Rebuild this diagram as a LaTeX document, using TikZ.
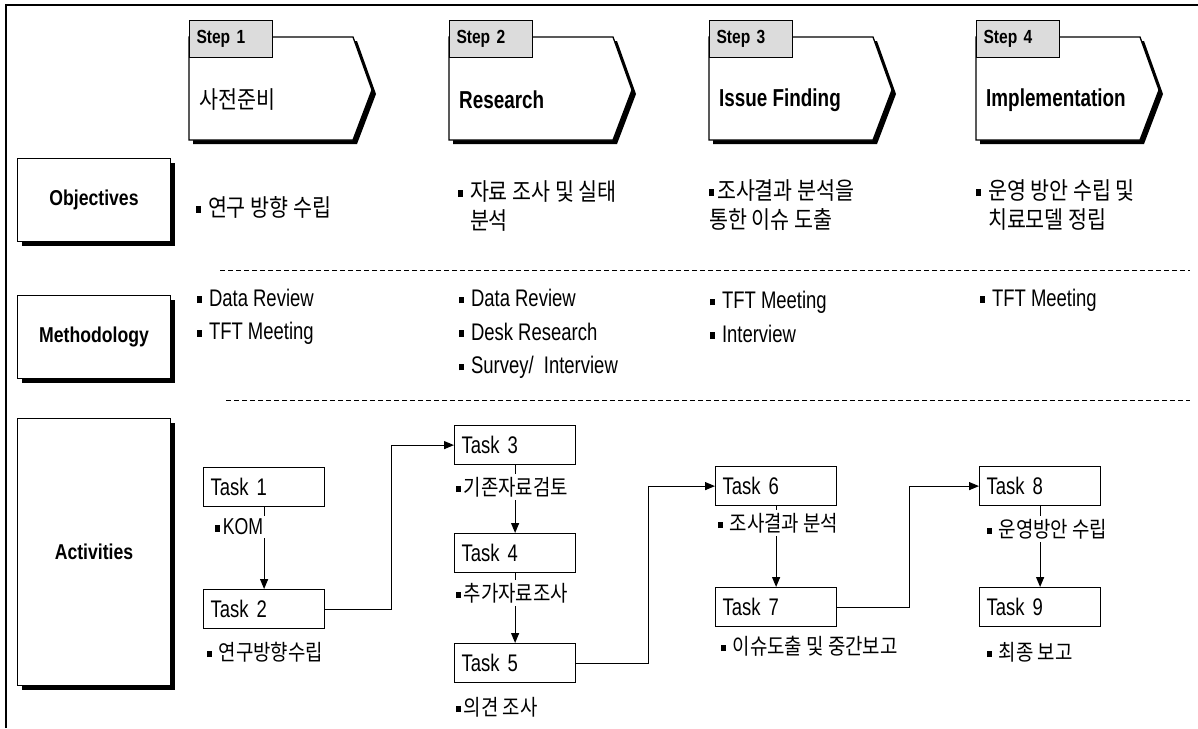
\documentclass[tikz,border=0pt]{standalone}
\usepackage{fontspec}
\setmainfont[FakeStretch=0.82]{Liberation Sans}
\newfontfamily\tn[FakeStretch=0.77]{Liberation Sans}
\newfontfamily\kr[FakeStretch=0.86]{Noto Sans CJK KR}
\usetikzlibrary{arrows.meta,shadows}
\definecolor{tabgray}{HTML}{DCDCDC}
% small square bullet, with a short gap after it
\newcommand\sqbul{\rule[0.14em]{0.2em}{0.28em}\hspace{3pt}}
\newcommand\gap{\hspace{4pt}}
\begin{document}
\begin{tikzpicture}[x=1pt,y=-1pt,
  frame/.style={line width=2pt},
  sep/.style={line width=1pt, dash pattern=on 5pt off 3pt},
  rowbox/.style={draw, line width=1pt, fill=white, minimum width=153pt,
    minimum height=83pt, anchor=north west,
    font=\bfseries\fontsize{21.5}{25}\selectfont,
    drop shadow={shadow xshift=4pt, shadow yshift=-4pt, opacity=1, fill=black}},
  steptab/.style={draw, line width=1pt, fill=tabgray, anchor=north west,
    minimum height=37pt, text width=69pt, inner xsep=7pt, align=left,
    font=\bfseries\fontsize{19}{22}\selectfont},
  steptitle/.style={anchor=west, inner sep=0pt, font=\tn\fontsize{24.5}{28}\selectfont},
  taskbox/.style={draw, line width=1.2pt, fill=white, anchor=north west,
    text width=107pt, inner xsep=7pt, minimum height=39pt, align=left,
    font=\tn\fontsize{24}{26}\selectfont},
  conn/.style={line width=1.2pt, -{Triangle[length=10pt,width=8pt]}},
  krtext/.style={anchor=west, inner sep=2pt, align=left, font=\kr\fontsize{24}{29}\selectfont},
  entext/.style={anchor=west, inner sep=2pt, align=left, font=\tn\fontsize{24}{33.5}\selectfont},
  lbl/.style={anchor=west, fill=white, inner xsep=2pt, inner ysep=3pt,
    font=\kr\fontsize{22}{26}\selectfont}
]
\useasboundingbox (0,0) rectangle (1198,728);

% outer frame
\draw[frame] (6,728) -- (6,5) -- (1198,5);

% step headers
\foreach \x/\n/\ttl in {189/1/{\kr\fontsize{24}{28}\selectfont 사전준비},
                        449/2/{\bfseries Research},
                        709/3/{\bfseries Issue Finding},
                        976/4/{\bfseries Implementation}} {
  \fill[black] (\x+4,41) -- (\x+168,41) -- (\x+187,94) -- (\x+168,144) -- (\x+4,144) -- cycle;
  \filldraw[fill=white, line width=1.3pt] (\x,37) -- (\x+164,37) -- (\x+183,90) -- (\x+164,140) -- (\x,140) -- cycle;
  \node[steptab] (tab\n) at (\x,20) {Step \n};
  \node[steptitle] (title\n) at (\x+10,100) {\ttl};
}

% row labels
\node[rowbox] (obj) at (17,158) {Objectives};
\node[rowbox] (meth) at (17,295) {Methodology};
\node[rowbox, minimum height=267pt] (act) at (17,418) {Activities};

% separators
\draw[sep] (220,270) -- (1190,270);
\draw[sep] (226,400) -- (1190,400);

% objectives
\node[krtext] (o1) at (194,207) {\sqbul\gap 연구 방향 수립};
\node[krtext] (o2) at (456,206) {\sqbul\gap 자료 조사 및 실태\\\phantom{\sqbul\gap}분석};
\node[krtext] (o3) at (707,205) {\sqbul 조사결과 분석을\\통한 이슈 도출};
\node[krtext] (o4) at (974,205) {\sqbul\gap 운영 방안 수립 및\\\phantom{\sqbul\gap}치료모델 정립};

% methodology
\node[entext] (m1) at (195,317) {\sqbul\gap Data Review\\\sqbul\gap TFT Meeting};
\node[entext] (m2) at (457,334) {\sqbul\gap Data Review\\\sqbul\gap Desk Research\\\sqbul\gap Survey/~ Interview};
\node[entext] (m3) at (708,317) {\sqbul\gap TFT Meeting\\\sqbul\gap Interview};
\node[entext] (m4) at (978,300) {\sqbul\gap TFT Meeting};

% activities: tasks
\node[taskbox] (t1) at (203,467) {Task 1};
\node[taskbox] (t2) at (203,589) {Task 2};
\node[taskbox] (t3) at (454,425) {Task 3};
\node[taskbox] (t4) at (454,533) {Task 4};
\node[taskbox] (t5) at (454,643) {Task 5};
\node[taskbox] (t6) at (715,466) {Task 6};
\node[taskbox] (t7) at (715,587) {Task 7};
\node[taskbox] (t8) at (979,466) {Task 8};
\node[taskbox] (t9) at (979,587) {Task 9};

% task flow
\draw[conn] (t1.south) -- (t2.north);
\draw[conn] (t2.east) -- ++(66,0) |- (t3.west);
\draw[conn] (t3.south) -- (t4.north);
\draw[conn] (t4.south) -- (t5.north);
\draw[conn] (t5.east) -- ++(72,0) |- (t6.west);
\draw[conn] (t6.south) -- (t7.north);
\draw[conn] (t7.east) -- ++(72,0) |- (t8.west);
\draw[conn] (t8.south) -- (t9.north);

% task descriptions
\node[lbl, font=\tn\fontsize{23}{26}\selectfont, minimum width=70pt, align=left] (d1) at (204,527) {\sqbul KOM\hfill};
\node[lbl] (d2) at (205,652) {\sqbul\gap 연구방향수립};
\node[lbl] (d3) at (454,487) {\sqbul 기존자료검토};
\node[lbl] (d4) at (454,593) {\sqbul 추가자료조사};
\node[lbl] (d5) at (454,707) {\sqbul 의견 조사};
\node[lbl] (d6) at (716,523) {\sqbul\gap 조사결과 분석};
\node[lbl] (d7) at (719,646) {\sqbul\gap 이슈도출 및 중간보고};
\node[lbl] (d8) at (985,529) {\sqbul\gap 운영방안 수립};
\node[lbl] (d9) at (985,652) {\sqbul\gap 최종 보고};
\end{tikzpicture}
\end{document}
